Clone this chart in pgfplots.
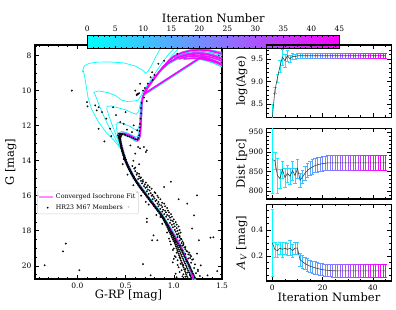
\documentclass[border=0pt]{standalone}
\usepackage{fontspec}
\setmainfont{DejaVu Serif}
\usepackage{pgfplots}
\usepackage{pgfplotstable}
\pgfplotsset{compat=1.18}
\usetikzlibrary{calc,arrows.meta}
\definecolor{cmin}{rgb}{0,1,1}
\definecolor{cmax}{rgb}{1,0,1}
\colorlet{c0}{cmin}
\colorlet{c1}{cmax!2!cmin}
\colorlet{c2}{cmax!4!cmin}
\colorlet{c3}{cmax!7!cmin}
\colorlet{c4}{cmax!9!cmin}
\colorlet{c6}{cmax!13!cmin}
\colorlet{c20}{cmax!44!cmin}
\colorlet{c30}{cmax!67!cmin}
\colorlet{c40}{cmax!89!cmin}
\pgfplotsset{
  colormap={cool}{rgb=(0,1,1) rgb=(1,0,1)},
  short line legend/.style={legend image code/.code={\draw[##1] (0pt,0pt) -- (14pt,0pt);}},
  every axis/.append style={
    scale only axis,
    axis line style={line width=1.3pt},
    every tick/.append style={line width=0.6pt, black},
    major tick length=4pt, minor tick length=2pt,
    tick align=inside,
    tick label style={font=\fontsize{7.5}{8}\selectfont},
    label style={font=\fontsize{11.5}{13}\selectfont},
    /pgf/number format/assume math mode=true,
  },
}
\pgfplotstableread{
it val err
0 8.20 0.30
1 8.80 0.08
2 9.07 0.10
3 9.33 0.14
4 9.54 0.18
5 9.46 0.15
6 9.57 0.13
7 9.50 0.08
8 9.56 0.07
9 9.55 0.06
10 9.57 0.055
11 9.57 0.055
12 9.57 0.055
13 9.57 0.055
14 9.57 0.055
15 9.57 0.055
16 9.57 0.055
17 9.57 0.055
18 9.57 0.055
19 9.57 0.055
20 9.57 0.055
21 9.57 0.055
22 9.57 0.055
23 9.57 0.055
24 9.57 0.055
25 9.57 0.055
26 9.57 0.055
27 9.57 0.055
28 9.57 0.055
29 9.57 0.055
30 9.57 0.055
31 9.57 0.055
32 9.57 0.055
33 9.57 0.055
34 9.57 0.055
35 9.57 0.055
36 9.57 0.055
37 9.57 0.055
38 9.57 0.055
39 9.57 0.055
40 9.57 0.055
41 9.57 0.055
42 9.57 0.055
43 9.57 0.055
44 9.57 0.055
45 9.57 0.055
}\tabage
\pgfplotstableread{
it val err
0 880 85
1 878 22
2 840 45
3 832 25
4 855 22
5 835 25
6 845 22
7 838 22
8 852 25
9 840 20
10 858 25
11 828 18
12 836 18
13 846 18
14 853 19
15 858 19
16 862 19
17 865 19
18 867 19
19 869 19
20 870 19
21 871 19
22 872 19
23 872 19
24 872 19
25 872 19
26 872 19
27 872 19
28 872 19
29 872 19
30 872 19
31 872 19
32 872 19
33 872 19
34 872 19
35 872 19
36 872 19
37 872 19
38 872 19
39 872 19
40 872 19
41 872 19
42 872 19
43 872 19
44 872 19
45 872 19
}\tabdist
\pgfplotstableread{
it val err
0 0.30 0.26
1 0.25 0.06
2 0.24 0.05
3 0.26 0.05
4 0.25 0.06
5 0.26 0.05
6 0.25 0.05
7 0.26 0.06
8 0.24 0.05
9 0.26 0.05
10 0.26 0.05
11 0.17 0.05
12 0.155 0.05
13 0.14 0.05
14 0.13 0.05
15 0.12 0.05
16 0.113 0.05
17 0.107 0.05
18 0.102 0.05
19 0.097 0.05
20 0.093 0.05
21 0.090 0.05
22 0.088 0.05
23 0.086 0.05
24 0.085 0.05
25 0.084 0.05
26 0.084 0.05
27 0.084 0.05
28 0.084 0.05
29 0.084 0.05
30 0.084 0.05
31 0.084 0.05
32 0.084 0.05
33 0.084 0.05
34 0.084 0.05
35 0.084 0.05
36 0.084 0.05
37 0.084 0.05
38 0.084 0.05
39 0.084 0.05
40 0.084 0.05
41 0.084 0.05
42 0.084 0.05
43 0.084 0.05
44 0.084 0.05
45 0.084 0.05
}\tabav
\begin{document}
\begin{tikzpicture}
\useasboundingbox (0pt,0pt) rectangle (396pt,310pt);
% ---------------- CMD ----------------
\begin{axis}[at={(35pt,31pt)}, anchor=south west, width=187pt, height=234pt,
  xmin=-0.44, xmax=1.5, ymin=7.4, ymax=20.75, y dir=reverse,
  xtick={0,0.5,1,1.5},
  minor xtick={-0.4,-0.3,-0.2,-0.1,0.1,0.2,0.3,0.4,0.6,0.7,0.8,0.9,1.1,1.2,1.3,1.4},
  ytick={8,10,12,14,16,18,20},
  minor ytick={7.5,8.5,9,9.5,10.5,11,11.5,12.5,13,13.5,14.5,15,15.5,16.5,17,17.5,18.5,19,19.5,20.5},
  x tick label style={/pgf/number format/.cd, fixed, fixed zerofill, precision=1, /tikz/.cd},
  xlabel={G-RP [mag]}, ylabel={G [mag]},
  xlabel style={at={(axis description cs:0.5,-0.068)}, anchor=center},
  ylabel style={at={(axis description cs:-0.129,0.5)}, anchor=center},
  point meta min=0, point meta max=45,
  colorbar horizontal,
  colorbar style={
    at={($(parent axis.north west)+(52.3pt,5pt)$)}, anchor=south west,
    width=252pt, height=13.3pt,
    xtick={0,5,...,45}, minor x tick num=4,
    xticklabel pos=upper,
    major tick length=3pt, minor tick length=1.5pt,
    xlabel={Iteration Number},
    xlabel style={at={(axis description cs:0.5,1)}, anchor=center, yshift=17.2pt},
  },
  legend style={at={(0.012,0.377)}, anchor=north west, draw=black!18, rounded corners=1pt,
    fill=white, fill opacity=0.8, text opacity=1, font=\fontsize{6.3}{7.3}\selectfont,
    inner sep=1pt, row sep=0.3pt},
  legend cell align=left,
]
\addlegendimage{cmax!45, line width=1.5pt, short line legend}
\addlegendentry{Converged Isochrone Fit}
\addlegendimage{only marks, mark=*, mark size=0.7pt, draw=none, fill=black!70}
\addlegendentry{HR23 M67 Members}
% early isochrones
\addplot[c0, line width=0.7pt, forget plot] coordinates {(1.23,20.8) (1.17,20.0) (1.09,19.0) (0.99,18.0) (0.875,17.0) (0.735,16.0) (0.60,15.0) (0.51,14.0) (0.45,13.3) (0.38,12.85) (0.30,12.4) (0.22,11.8) (0.15,11.1) (0.11,10.4) (0.09,9.7) (0.075,9.2) (0.06,8.85) (0.05,8.95) (0.07,8.6) (0.12,8.45) (0.20,8.38) (0.34,8.37) (0.48,8.42) (0.60,8.6) (0.68,8.85) (0.71,9.02) (0.74,8.85) (0.78,8.45) (0.82,8.0) (0.86,7.6) (0.9,7.3)};
\addplot[c1, line width=0.7pt, forget plot] coordinates {(1.225,20.8) (1.165,20.0) (1.085,19.0) (0.985,18.0) (0.87,17.0) (0.73,16.0) (0.595,15.0) (0.505,14.0) (0.45,13.3) (0.40,12.8) (0.33,12.1) (0.26,11.3) (0.21,10.6) (0.185,10.25) (0.17,10.1) (0.22,10.02) (0.32,10.12) (0.40,10.3) (0.46,10.55) (0.52,10.62) (0.58,10.6) (0.63,10.55) (0.66,10.3) (0.70,9.9) (0.76,9.4) (0.82,8.9) (0.88,8.4) (0.95,7.9) (1.02,7.5) (1.1,7.2)};
\addplot[c2, line width=0.7pt, forget plot] coordinates {(1.22,20.8) (1.16,20.0) (1.08,19.0) (0.98,18.0) (0.865,17.0) (0.725,16.0) (0.59,15.0) (0.50,14.0) (0.455,13.3) (0.42,12.8) (0.37,12.1) (0.33,11.5) (0.305,11.05) (0.31,10.9) (0.35,10.88) (0.42,10.98) (0.50,11.1) (0.56,11.25) (0.61,11.35) (0.635,11.2) (0.65,10.8) (0.67,10.4) (0.71,10.0) (0.77,9.5) (0.84,9.0) (0.91,8.5) (0.98,8.0) (1.05,7.6) (1.15,7.3)};
\addplot[c3, line width=0.7pt, forget plot] coordinates {(1.215,20.8) (1.155,20.0) (1.075,19.0) (0.975,18.0) (0.86,17.0) (0.72,16.0) (0.585,15.0) (0.495,14.0) (0.455,13.3) (0.43,12.8) (0.41,12.3) (0.40,11.95) (0.42,11.82) (0.47,11.88) (0.54,12.02) (0.59,12.2) (0.625,12.25) (0.64,12.0) (0.65,11.5) (0.657,11.0) (0.665,10.6) (0.685,10.25) (0.72,9.9) (0.78,9.45) (0.85,8.95) (0.92,8.5) (0.99,8.1) (1.07,7.85) (1.16,7.7) (1.26,7.65) (1.38,7.68) (1.5,7.8) (1.6,8.0)};
\addplot[c4, line width=0.7pt, forget plot] coordinates {(1.21,20.8) (1.15,20.0) (1.07,19.0) (0.97,18.0) (0.855,17.0) (0.715,16.0) (0.585,15.0) (0.495,14.0) (0.45,13.2) (0.435,12.7) (0.435,12.4) (0.46,12.32) (0.51,12.4) (0.56,12.52) (0.60,12.65) (0.625,12.62) (0.638,12.35) (0.645,11.9) (0.65,11.4) (0.655,10.9) (0.665,10.5) (0.69,10.15) (0.735,9.75) (0.79,9.3) (0.855,8.85) (0.92,8.45) (0.985,8.12) (1.06,7.9) (1.15,7.75) (1.25,7.7) (1.36,7.74) (1.46,7.86) (1.56,8.05)};
% later iterations
\addplot[c6, line width=1.1pt, forget plot] coordinates {(1.195,20.8) (1.15,20.0) (1.07,19.0) (0.965,18.0) (0.85,17.0) (0.71,16.0) (0.58,15.0) (0.49,14.0) (0.44,13.0) (0.425,12.75) (0.43,12.55) (0.455,12.5) (0.51,12.58) (0.56,12.72) (0.60,12.88) (0.625,12.9) (0.638,12.68) (0.645,12.28) (0.65,11.78) (0.654,11.28) (0.658,10.78) (0.67,10.43) (0.70,10.08) (0.75,9.68) (0.81,9.23) (0.87,8.78) (0.93,8.43) (0.99,8.13) (1.07,7.93) (1.16,7.8) (1.26,7.76) (1.36,7.8) (1.45,7.93) (1.55,8.1)};
\addplot[c6, line width=1.1pt, forget plot] coordinates {(1.6,9.0) (1.5,8.65) (1.4,8.4) (1.27,8.2) (0.68,10.3) (0.69,10.15) (0.73,9.8) (0.79,9.35) (0.86,8.9) (0.94,8.5) (1.04,8.2) (1.14,8.05) (1.24,8.0) (1.34,8.05) (1.44,8.2) (1.55,8.4)};
\addplot[c20, line width=1.2pt, forget plot] coordinates {(1.21,20.8) (1.165,20.0) (1.085,19.0) (0.98,18.0) (0.865,17.0) (0.725,16.0) (0.595,15.0) (0.505,14.0) (0.455,13.0) (0.445,12.66) (0.45,12.46) (0.475,12.41) (0.525,12.48) (0.575,12.61) (0.615,12.76) (0.64,12.78) (0.653,12.56) (0.66,12.16) (0.665,11.66) (0.669,11.16) (0.673,10.66) (0.685,10.31) (0.715,9.96) (0.765,9.56) (0.825,9.11) (0.885,8.66) (0.945,8.31) (1.005,8.01) (1.085,7.81) (1.175,7.68) (1.275,7.64) (1.375,7.68) (1.465,7.81) (1.555,7.96)};
\addplot[c20, line width=1.2pt, forget plot] coordinates {(1.6,8.86) (1.5,8.51) (1.4,8.26) (1.285,8.06) (0.695,10.16) (0.705,10.01) (0.745,9.66) (0.805,9.21) (0.875,8.76) (0.955,8.36) (1.055,8.06) (1.155,7.91) (1.255,7.86) (1.355,7.91) (1.455,8.06) (1.555,8.26)};
\addplot[c30, line width=1.6pt, forget plot] coordinates {(1.0,8.15) (1.1,7.95) (1.2,7.85) (1.3,7.85) (1.4,7.95) (1.5,8.15) (1.6,8.4)};
\addplot[c40, line width=1.6pt, forget plot] coordinates {(1.05,8.2) (1.15,8.05) (1.25,8.0) (1.35,8.05) (1.45,8.2) (1.55,8.45) (1.6,8.6)};
\addplot[c40, line width=1.6pt, forget plot] coordinates {(1.1,8.2) (1.2,8.15) (1.3,8.2) (1.4,8.32) (1.5,8.5) (1.6,8.75)};
\addplot[c40, line width=1.6pt, forget plot] coordinates {(1.15,8.05) (1.25,8.08) (1.35,8.15) (1.45,8.35) (1.55,8.6)};
% converged
\addplot[cmax, line width=1.5pt, forget plot] coordinates {(1.205,20.8) (1.19,20.5) (1.16,20.0) (1.12,19.5) (1.08,19.0) (1.03,18.5) (0.975,18.0) (0.92,17.5) (0.86,17.0) (0.79,16.5) (0.72,16.0) (0.65,15.5) (0.59,15.0) (0.54,14.5) (0.50,14.0) (0.47,13.5) (0.45,13.0) (0.44,12.7) (0.445,12.5) (0.47,12.45) (0.52,12.52) (0.57,12.65) (0.61,12.8) (0.635,12.82) (0.648,12.6) (0.655,12.2) (0.66,11.7) (0.664,11.2) (0.668,10.7) (0.68,10.35) (0.71,10.0) (0.76,9.6) (0.82,9.15) (0.88,8.7) (0.94,8.35) (1.0,8.05) (1.08,7.85) (1.17,7.72) (1.27,7.68) (1.37,7.72) (1.46,7.85) (1.55,8.0)};
\addplot[cmax, line width=1.5pt, forget plot] coordinates {(1.6,8.9) (1.5,8.55) (1.4,8.3) (1.28,8.1) (0.69,10.2) (0.70,10.05) (0.74,9.7) (0.80,9.25) (0.87,8.8) (0.95,8.4) (1.05,8.1) (1.15,7.95) (1.25,7.9) (1.35,7.95) (1.45,8.1) (1.55,8.3)};
% members
\addplot[only marks, mark=*, mark size=0.72pt, mark options={draw=none, fill=black!78, fill opacity=0.7}, forget plot] coordinates {
(0.432,12.60) (0.441,12.63) (0.447,12.67) (0.430,12.70) (0.440,12.74) (0.446,12.77) (0.436,12.80) (0.445,12.83) (0.438,12.87)
(0.441,12.90) (0.450,12.93) (0.444,12.97) (0.446,13.00) (0.455,13.04) (0.449,13.07) (0.448,13.10) (0.458,13.13) (0.452,13.17)
(0.451,13.20) (0.461,13.24) (0.456,13.27) (0.455,13.30) (0.466,13.33) (0.461,13.37) (0.460,13.40) (0.471,13.44) (0.466,13.47)
(0.465,13.50) (0.476,13.53) (0.472,13.57) (0.470,13.60) (0.481,13.64) (0.477,13.67) (0.477,13.70) (0.489,13.73) (0.484,13.77)
(0.485,13.80) (0.496,13.84) (0.491,13.87) (0.490,13.90) (0.502,13.93) (0.497,13.97) (0.495,14.00) (0.507,14.04) (0.503,14.07)
(0.503,14.10) (0.515,14.13) (0.510,14.17) (0.511,14.20) (0.523,14.24) (0.518,14.27) (0.518,14.30) (0.531,14.33) (0.527,14.37)
(0.526,14.40) (0.539,14.44) (0.535,14.47) (0.534,14.50) (0.548,14.53) (0.543,14.57) (0.544,14.60) (0.558,14.64) (0.553,14.67)
(0.554,14.70) (0.568,14.73) (0.563,14.77) (0.564,14.80) (0.578,14.84) (0.574,14.87) (0.574,14.90) (0.588,14.93) (0.584,14.97)
(0.584,15.00) (0.598,15.04) (0.595,15.07) (0.596,15.10) (0.610,15.13) (0.607,15.17) (0.607,15.20) (0.622,15.24) (0.619,15.27)
(0.619,15.30) (0.634,15.33) (0.631,15.37) (0.631,15.40) (0.646,15.44) (0.644,15.47) (0.643,15.50) (0.658,15.53) (0.656,15.57)
(0.657,15.60) (0.672,15.64) (0.670,15.67) (0.671,15.70) (0.686,15.73) (0.684,15.77) (0.685,15.80) (0.700,15.84) (0.698,15.87)
(0.699,15.90) (0.714,15.93) (0.712,15.97) (0.712,16.00) (0.728,16.04) (0.726,16.07) (0.726,16.10) (0.742,16.13) (0.740,16.17)
(0.740,16.20) (0.756,16.24) (0.754,16.27) (0.754,16.30) (0.770,16.33) (0.768,16.37) (0.768,16.40) (0.784,16.44) (0.782,16.47)
(0.782,16.50) (0.798,16.53) (0.796,16.57) (0.796,16.60) (0.812,16.64) (0.810,16.67) (0.810,16.70) (0.826,16.73) (0.824,16.77)
(0.824,16.80) (0.840,16.84) (0.838,16.87) (0.838,16.90) (0.854,16.93) (0.852,16.97) (0.851,17.00) (0.868,17.04) (0.864,17.07)
(0.863,17.10) (0.880,17.13) (0.876,17.17) (0.875,17.20) (0.892,17.24) (0.888,17.27) (0.886,17.30) (0.903,17.33) (0.898,17.37)
(0.896,17.40) (0.913,17.44) (0.908,17.47) (0.905,17.50) (0.924,17.53) (0.918,17.57) (0.915,17.60) (0.934,17.64) (0.928,17.67)
(0.924,17.70) (0.944,17.73) (0.938,17.77) (0.933,17.80) (0.954,17.84) (0.947,17.87) (0.941,17.90) (0.963,17.93) (0.955,17.97)
(0.948,18.00) (0.972,18.04) (0.964,18.07) (0.958,18.10) (0.983,18.13) (0.973,18.17) (0.967,18.20) (0.993,18.24) (0.983,18.27)
(0.975,18.30) (1.003,18.33) (0.992,18.37) (0.983,18.40) (1.012,18.44) (1.000,18.47) (0.990,18.50) (1.021,18.53) (1.008,18.57)
(0.998,18.60) (1.032,18.64) (1.018,18.67) (1.008,18.70) (1.043,18.73) (1.028,18.77) (1.016,18.80) (1.052,18.84) (1.037,18.87)
(1.022,18.90) (1.062,18.93) (1.045,18.97) (1.028,19.00) (1.072,19.04) (1.053,19.07) (1.036,19.10) (1.080,19.13) (1.061,19.17)
(1.042,19.20) (1.090,19.24) (1.069,19.27) (1.049,19.30) (1.099,19.33) (1.077,19.37) (1.055,19.40) (1.108,19.44) (1.085,19.47)
(1.062,19.50) (1.118,19.53) (1.093,19.57) (1.068,19.60) (1.127,19.64) (1.101,19.67) (1.075,19.70) (1.136,19.73) (1.109,19.77)
(1.082,19.80) (1.146,19.84) (1.117,19.87) (1.088,19.90) (1.155,19.93) (1.125,19.97) (1.095,20.00) (1.164,20.04) (1.133,20.07)
(1.102,20.10) (1.172,20.13) (1.141,20.17) (1.109,20.20) (1.181,20.24) (1.149,20.27) (1.116,20.30) (1.190,20.33) (1.157,20.37)
(1.123,20.40) (1.198,20.44) (1.165,20.47) (1.130,20.50) (1.207,20.53) (1.173,20.57) (1.137,20.60) (1.216,20.64) (1.181,20.67) (1.144,20.70)
(0.98,18.15) (1.04,18.22) (1.06,18.35) (0.95,18.45) (1.08,18.48) (1.02,18.62) (1.10,18.70) (0.97,18.78) (1.07,18.85) (1.12,18.92)
(1.00,19.02) (1.09,19.12) (1.14,19.18) (1.03,19.25) (1.12,19.32) (1.17,19.38) (1.01,19.45) (1.06,19.52) (1.15,19.58) (1.20,19.62)
(1.04,19.68) (1.13,19.75) (1.18,19.82) (1.07,19.88) (1.22,19.92) (1.10,19.95) (1.16,20.02) (1.05,20.08) (1.21,20.12) (1.12,20.18)
(1.25,20.22) (1.08,20.25) (1.19,20.32) (1.14,20.38) (1.23,20.42) (1.10,20.48) (1.17,20.55) (1.27,20.58) (1.12,20.62) (1.22,20.68)
(1.06,20.35) (1.02,20.45) (1.09,20.60) (1.25,20.30) (0.99,19.80) (1.00,19.60) (1.03,20.65)
(0.57,14.30) (0.59,14.45) (0.60,14.60) (0.62,14.70) (0.615,14.80) (0.64,14.90) (0.65,15.00) (0.63,15.05) (0.66,15.15) (0.68,15.20)
(0.67,15.30) (0.70,15.35) (0.69,15.45) (0.72,15.50) (0.705,15.55) (0.73,15.65) (0.75,15.70) (0.72,15.75) (0.76,15.85) (0.74,15.90)
(0.78,15.95) (0.77,16.00) (0.79,16.05) (0.80,16.15) (0.78,16.20) (0.82,16.25) (0.81,16.30) (0.84,16.35) (0.83,16.45) (0.85,16.50)
(0.87,16.55) (0.84,16.60) (0.88,16.65) (0.86,16.75) (0.89,16.80) (0.91,16.85) (0.88,16.90) (0.92,16.95) (0.90,17.05) (0.93,17.10)
(0.95,17.15) (0.92,17.20) (0.96,17.25) (0.94,17.35) (0.97,17.40) (0.99,17.45) (0.96,17.55) (1.00,17.60) (0.98,17.65) (1.01,17.75)
(0.99,17.80) (1.03,17.85) (1.01,17.95) (1.04,18.00) (1.02,18.05) (1.05,18.15) (1.03,18.20) (1.06,18.30) (1.04,18.35) (1.07,18.45)
(1.06,18.55) (1.09,18.60) (1.08,18.70) (1.10,18.80) (1.09,18.85) (1.11,18.95) (1.12,19.05) (1.13,19.15) (1.16,19.25) (1.15,19.35)
(1.18,19.45) (1.17,19.55) (1.19,19.65)
(0.60,14.40) (0.64,14.75) (0.68,15.10) (0.73,15.40) (0.77,15.60) (0.81,15.85) (0.83,16.00) (0.86,16.20) (0.90,16.45) (0.93,16.70)
(0.95,16.95) (0.98,17.20) (1.02,17.50) (1.05,17.75) (1.07,18.10) (0.66,14.95) (0.71,15.25) (0.75,15.50) (0.80,15.80) (0.84,16.10)
(0.88,16.40) (0.91,16.60) (0.94,16.85) (0.97,17.05) (1.00,17.35) (1.03,17.65) (1.06,17.95)
(0.47,14.20) (0.52,14.80) (0.58,15.40) (0.66,16.00) (0.74,16.50) (0.82,17.10) (0.88,17.60) (0.93,18.10) (0.96,18.60) (0.99,19.10)
(1.02,19.50) (1.04,19.95) (0.48,13.90) (0.62,15.80) (0.71,16.35)
(0.44,12.50) (0.45,12.45) (0.47,12.48) (0.49,12.50) (0.50,12.55) (0.52,12.60) (0.54,12.62) (0.56,12.68) (0.58,12.72) (0.60,12.78)
(0.62,12.80) (0.63,12.70) (0.64,12.55) (0.645,12.30) (0.65,12.10) (0.65,11.90) (0.655,11.60) (0.66,11.30) (0.66,11.00) (0.665,10.70)
(0.42,12.55) (0.43,12.45) (0.46,12.52) (0.455,12.58) (0.44,12.62) (0.425,12.65)
(0.62,10.20) (0.625,10.22) (0.63,10.18) (0.615,10.25) (0.64,10.15) (0.60,10.00) (0.65,9.61) (0.68,10.00) (0.70,9.85) (0.73,9.60)
(0.76,9.24) (0.775,8.95) (0.80,9.10) (0.84,8.47) (0.90,8.30) (1.036,7.90) (0.78,9.40) (0.72,10.60) (0.69,10.40)
(-0.058,10.00) (0.10,10.66) (0.105,10.90) (0.185,10.85) (0.22,10.95) (0.20,11.13) (0.255,11.23) (0.37,10.95) (0.50,11.23) (0.22,12.18)
(0.34,12.18) (0.445,11.80) (0.48,11.90) (0.515,12.23) (0.567,12.37) (0.584,11.99) (0.62,12.27) (0.69,13.22) (0.72,13.41) (0.55,13.13)
(0.63,13.22) (0.65,13.30) (0.71,13.50) (0.30,11.60) (0.40,11.40) (0.28,12.90) (0.35,12.60) (0.60,13.60) (0.58,14.00) (0.64,14.20)
(-0.12,18.73) (-0.15,19.17) (-0.34,19.97) (0.02,20.25) (1.14,16.45) (1.19,17.87) (1.38,18.39) (1.41,18.37) (1.26,18.54) (0.776,18.54)
(0.83,18.54) (0.79,18.26) (0.86,17.21) (0.72,17.30) (0.72,17.50) (0.76,20.54) (1.28,19.97) (1.35,20.54) (1.24,19.30) (1.21,17.12)
(0.97,15.20) (1.24,15.98) (0.53,16.64) (0.90,15.50) (1.05,16.20) (0.68,19.90) (1.45,20.30)
};
\end{axis}
% ---------------- log(Age) ----------------
\begin{axis}[at={(266.7pt,192.7pt)}, anchor=south west, width=124.5pt, height=72.3pt,
  xmin=-2.25, xmax=47.25, ymin=8.2, ymax=9.81,
  xtick={0,20,40}, minor xtick={5,10,15,25,30,35,45}, xticklabel=\empty,
  ytick={8.5,9.0,9.5}, minor ytick={8.3,8.4,8.6,8.7,8.8,8.9,9.1,9.2,9.3,9.4,9.6,9.7,9.8},
  y tick label style={/pgf/number format/.cd, fixed, fixed zerofill, precision=1, /tikz/.cd},
  ylabel={log(Age)}, ylabel style={at={(axis description cs:-0.2,0.5)}, anchor=center},
  point meta min=0, point meta max=45]
\addplot[point meta=\thisrow{it}, quiver={u=0, v=2*\thisrow{err}, colored=mapped color,
  every arrow/.append style={line width=0.6pt, arrows={Bar[width=3.5pt]-Bar[width=3.5pt]}}}]
  table[x=it, y expr=\thisrow{val}-\thisrow{err}] {\tabage};
\addplot[black!75, line width=0.6pt] table[x=it, y=val] {\tabage};
\end{axis}
% ---------------- Dist ----------------
\begin{axis}[at={(266.7pt,111pt)}, anchor=south west, width=124.5pt, height=70.7pt,
  xmin=-2.25, xmax=47.25, ymin=780, ymax=960,
  xtick={0,20,40}, minor xtick={5,10,15,25,30,35,45}, xticklabel=\empty,
  ytick={800,850,900,950}, minor ytick={790,810,820,830,840,860,870,880,890,910,920,930,940},
  ylabel={Dist [pc]}, ylabel style={at={(axis description cs:-0.2,0.5)}, anchor=center},
  point meta min=0, point meta max=45]
\addplot[point meta=\thisrow{it}, quiver={u=0, v=2*\thisrow{err}, colored=mapped color,
  every arrow/.append style={line width=0.6pt, arrows={Bar[width=3.5pt]-Bar[width=3.5pt]}}}]
  table[x=it, y expr=\thisrow{val}-\thisrow{err}] {\tabdist};
\addplot[black!75, line width=0.6pt] table[x=it, y=val] {\tabdist};
\end{axis}
% ---------------- Av ----------------
\begin{axis}[at={(266.7pt,29pt)}, anchor=south west, width=124.5pt, height=76.7pt,
  xmin=-2.25, xmax=47.25, ymin=0.005, ymax=0.6,
  xtick={0,20,40}, minor xtick={5,10,15,25,30,35,45},
  ytick={0.2,0.4}, minor ytick={0.05,0.1,0.15,0.25,0.3,0.35,0.45,0.5,0.55},
  y tick label style={/pgf/number format/.cd, fixed, fixed zerofill, precision=1, /tikz/.cd},
  xlabel={Iteration Number}, xlabel style={at={(axis description cs:0.5,-0.215)}, anchor=center},
  ylabel={\textit{A}\textsubscript{\textit{V}} [mag]}, ylabel style={at={(axis description cs:-0.2,0.5)}, anchor=center},
  point meta min=0, point meta max=45]
\addplot[point meta=\thisrow{it}, quiver={u=0, v=2*\thisrow{err}, colored=mapped color,
  every arrow/.append style={line width=0.6pt, arrows={Bar[width=3.5pt]-Bar[width=3.5pt]}}}]
  table[x=it, y expr=\thisrow{val}-\thisrow{err}] {\tabav};
\addplot[black!75, line width=0.6pt] table[x=it, y=val] {\tabav};
\end{axis}
\end{tikzpicture}
\end{document}
